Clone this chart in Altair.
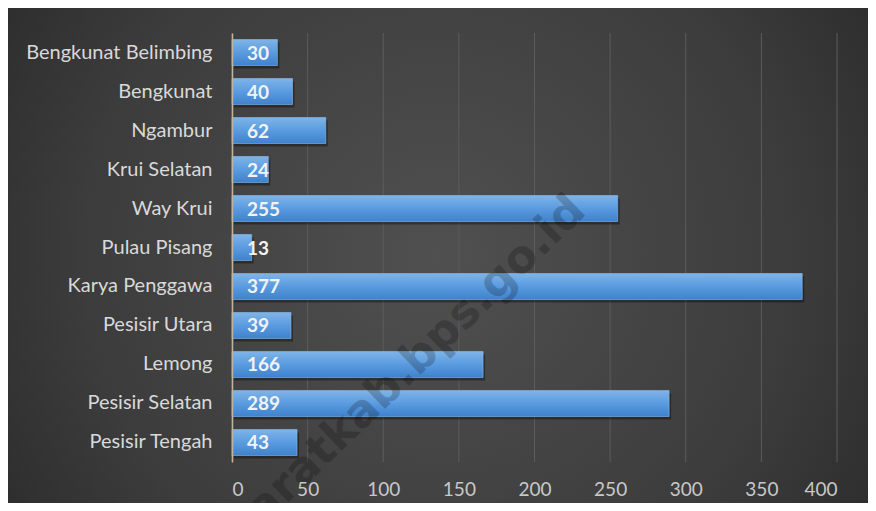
import altair as alt
import pandas as pd

# ---- data ----
districts = [
    "Bengkunat Belimbing", "Bengkunat", "Ngambur", "Krui Selatan", "Way Krui",
    "Pulau Pisang", "Karya Penggawa", "Pesisir Utara", "Lemong",
    "Pesisir Selatan", "Pesisir Tengah",
]
counts = [30, 40, 62, 24, 255, 13, 377, 39, 166, 289, 43]
x_ticks = [0, 50, 100, 150, 200, 250, 300, 350, 400]
watermark = ["pesisirbaratkab.bps.go.id"]

df = pd.DataFrame({"district": districts, "count": counts})
grid_df = pd.DataFrame({"tick": x_ticks})
wm_df = pd.DataFrame({"text": watermark})

W, H = 605, 429
PL, PT, PR, PB = 224, 25, 31, 41
FONT = "Lato"

x_scale = alt.Scale(domain=[0, 400], nice=False, zero=True)
y_scale = alt.Scale(domain=districts, paddingInner=0.333, paddingOuter=0.167)

bg_fill = alt.RadialGradient(
    gradient="radial",
    x1=0.5, y1=0.5, r1=0.0,
    x2=0.5, y2=0.5, r2=0.75,
    stops=[
        alt.GradientStop(offset=0.0, color="#505050"),
        alt.GradientStop(offset=0.55, color="#3c3c3c"),
        alt.GradientStop(offset=1.0, color="#202020"),
    ],
)

background = alt.Chart(wm_df).mark_rect(fill=bg_fill, clip=False).encode(
    x=alt.value(-PL), x2=alt.value(W + PR),
    y=alt.value(-PT), y2=alt.value(H + PB),
)

grid = alt.Chart(grid_df).mark_rule(color="#5c5c5c", strokeWidth=1).encode(
    x=alt.X("tick:Q", scale=x_scale),
    y=alt.value(0), y2=alt.value(H),
)

shadow = alt.Chart(df).mark_bar(
    color="#000000", opacity=0.35, xOffset=2, x2Offset=3, yOffset=3, y2Offset=3
).encode(
    x=alt.X("count:Q", scale=x_scale),
    y=alt.Y("district:N", scale=y_scale, sort=districts),
)

bar_fill = alt.LinearGradient(
    gradient="linear", x1=0, y1=0, x2=0, y2=1,
    stops=[
        alt.GradientStop(offset=0.0, color="#7fb4e8"),
        alt.GradientStop(offset=0.5, color="#5a9be0"),
        alt.GradientStop(offset=1.0, color="#3f82cc"),
    ],
)

bars = alt.Chart(df).mark_bar(fill=bar_fill, stroke="#8cbcec", strokeWidth=0.6).encode(
    x=alt.X(
        "count:Q", scale=x_scale, title=None,
        axis=alt.Axis(
            values=x_ticks, grid=False, ticks=False, tickSize=0, domain=False,
            labelFont=FONT, labelFontSize=19, labelColor="#c8c8c8",
            labelPadding=18, zindex=1,
        ),
    ),
    y=alt.Y(
        "district:N", scale=y_scale, sort=districts, title=None,
        axis=alt.Axis(
            ticks=False, tickSize=0, grid=False, domain=True,
            domainColor="#c2b39c", domainWidth=1.5,
            labelFont=FONT, labelFontSize=20, labelColor="#d9d9d9",
            labelPadding=20, labelLimit=300, zindex=1,
        ),
    ),
)

labels = alt.Chart(df).transform_calculate(zero="0").mark_text(
    align="left", baseline="middle", dx=15, dy=1,
    font=FONT, fontSize=19, fontWeight="bold", color="#f2f2f2",
).encode(
    x=alt.X("zero:Q", scale=x_scale),
    y=alt.Y("district:N", scale=y_scale, sort=districts),
    text=alt.Text("count:Q"),
)

wm = alt.Chart(wm_df).mark_text(
    align="right", baseline="middle", angle=316,
    font="DejaVu Sans", fontSize=45, fontWeight="bold", color="#000000", opacity=0.2,
).encode(
    x=alt.value(346), y=alt.value(170), text="text:N",
)

chart = alt.layer(background, grid, shadow, bars, labels, wm).properties(
    width=W, height=H,
    autosize=alt.AutoSizeParams(type="none"),
    padding={"left": PL, "top": PT, "right": PR, "bottom": PB},
    background="#2a2a2a",
).configure_view(stroke=None)

chart.save("out.html", embed_options={"renderer": "svg", "actions": False})
